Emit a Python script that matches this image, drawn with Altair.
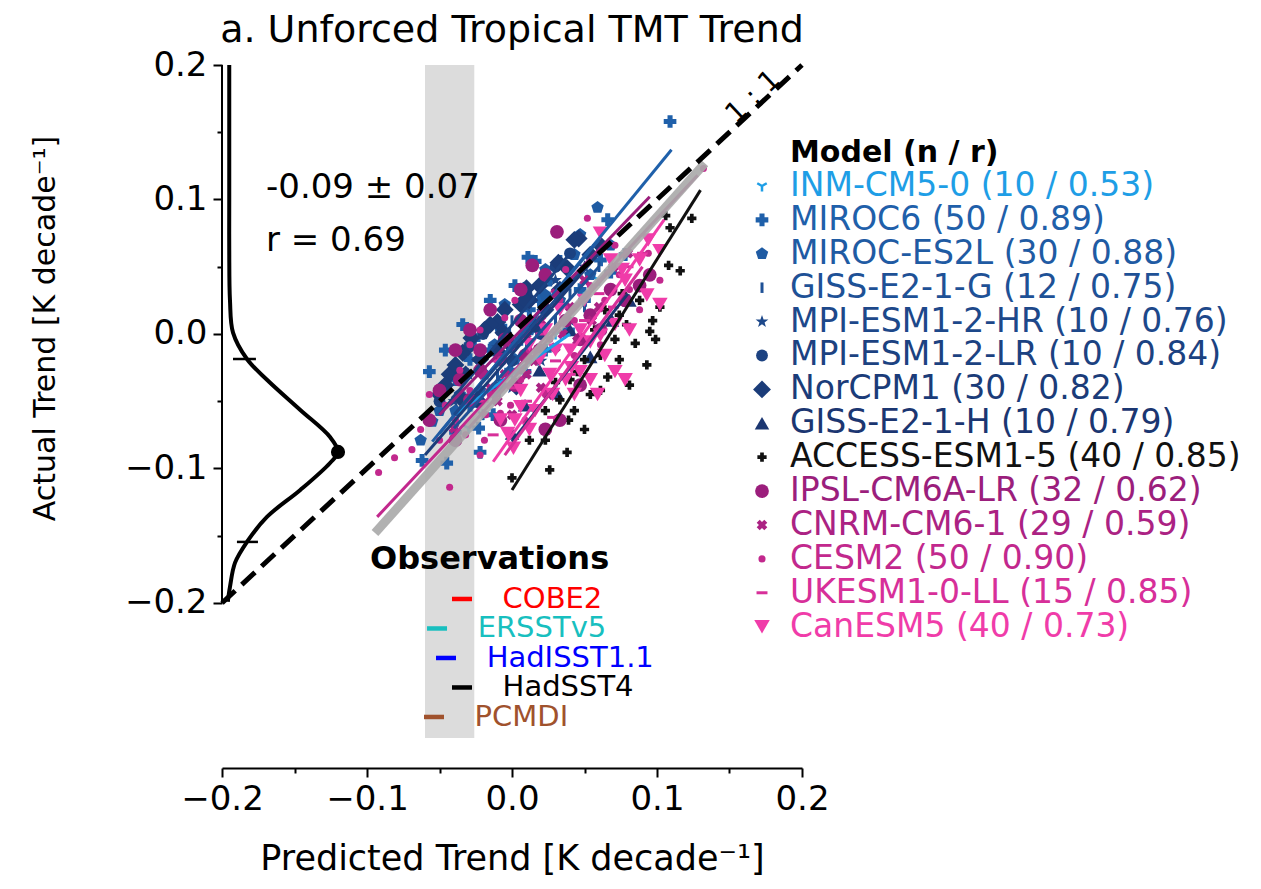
import math
import altair as alt
import pandas as pd

# ---------------- data ----------------
model_names = ["INM-CM5-0", "MIROC6", "MIROC-ES2L", "GISS-E2-1-G", "MPI-ESM1-2-HR",
               "MPI-ESM1-2-LR", "NorCPM1", "GISS-E2-1-H", "ACCESS-ESM1-5", "IPSL-CM6A-LR",
               "CNRM-CM6-1", "CESM2", "UKESM1-0-LL", "CanESM5"]
model_n = [10, 50, 30, 12, 10, 10, 30, 10, 40, 32, 29, 50, 15, 40]
model_r = ["0.53", "0.89", "0.88", "0.75", "0.76", "0.84", "0.82", "0.79", "0.85",
           "0.62", "0.59", "0.90", "0.85", "0.73"]
model_colors = ["#1e9ee6", "#1f60aa", "#1f5ba3", "#1e5196", "#1d488a", "#1c4281",
                "#1b3c79", "#1b3671", "#111111", "#9b1e7c", "#ab2283", "#c2288d",
                "#d72f99", "#f03ca9"]

inm_x = [0.000, -0.020, 0.030, 0.040, -0.010, 0.020, 0.050, 0.010, -0.030, 0.060]
inm_y = [-0.030, -0.060, 0.000, 0.020, -0.040, -0.010, 0.030, -0.020, -0.070, 0.040]

miroc6_x = [0.109, 0.066, 0.011, -0.022, -0.062, -0.045, -0.023, -0.013, 0.033, 0.019, -0.005,
            -0.029, -0.039, -0.012, 0.006, 0.047, 0.012, -0.015, -0.032, -0.001, 0.061, 0.026,
            -0.026, -0.039, -0.029, -0.008, 0.009, 0.023, 0.039, 0.050, 0.068, 0.078, 0.016,
            0.002, -0.015, -0.034, -0.046, -0.057]
miroc6_y = [0.158, 0.085, 0.057, -0.088, -0.094, -0.096, -0.070, -0.060, 0.054, 0.025, 0.003,
            -0.019, -0.034, -0.045, -0.004, 0.033, 0.018, -0.012, -0.049, -0.027, 0.055, 0.040,
            -0.004, -0.073, -0.053, -0.038, -0.028, -0.012, 0.003, 0.025, 0.046, 0.059, 0.054,
            0.036, 0.025, 0.007, -0.012, -0.028]

mirocES_x = [0.059, 0.008, -0.055, 0.043, 0.023, -0.008, -0.029, 0.002, -0.019, -0.036, 0.033,
             0.054, -0.050, 0.012, 0.047, -0.005, -0.039, -0.022, 0.023, -0.012, 0.068, -0.063]
mirocES_y = [0.094, 0.034, -0.065, 0.059, 0.029, 0.003, -0.008, -0.019, -0.030, -0.045, 0.025,
             0.044, -0.057, 0.003, 0.074, 0.022, -0.057, -0.042, 0.048, -0.008, 0.066, -0.079]

gissG_x = [0.02, -0.01, 0.04, 0.00, -0.03, 0.05, 0.01, -0.02, 0.03, 0.06, -0.04, 0.00]
gissG_y = [0.00, -0.03, 0.03, -0.02, -0.05, 0.02, -0.01, -0.06, 0.01, 0.05, -0.07, 0.01]

mpiHR_x = [0.01, -0.03, 0.03, -0.01, 0.02, -0.04, 0.05, 0.00, 0.04, -0.02]
mpiHR_y = [0.02, -0.03, 0.04, -0.01, -0.02, -0.05, 0.05, -0.04, 0.01, 0.00]

mpiLR_x = [-0.02, 0.01, -0.04, 0.03, 0.00, -0.03, 0.02, -0.05, 0.04, -0.01]
mpiLR_y = [0.00, 0.03, -0.03, 0.05, -0.02, -0.01, 0.00, -0.05, 0.06, -0.04]

nor_x = [0.046, 0.032, 0.019, -0.010, -0.028, -0.034, -0.006, -0.036, -0.024, 0.003, -0.015,
         -0.019, 0.043, 0.038, 0.010, -0.043, -0.046, 0.006, -0.039, -0.001, 0.012, 0.023,
         -0.022, 0.054, 0.061, -0.032, -0.010, 0.016, -0.050, -0.005, 0.009, 0.033]
nor_y = [0.071, 0.053, 0.036, 0.009, -0.003, -0.014, 0.001, -0.047, -0.049, -0.039, 0.007,
         0.003, 0.070, 0.049, 0.034, -0.030, -0.038, 0.022, -0.023, -0.008, 0.025, 0.018,
         -0.019, 0.059, 0.066, -0.030, -0.013, 0.007, -0.045, 0.018, 0.025, 0.033]

gissH_x = [0.031, 0.069, 0.054, 0.000, 0.040, 0.019, 0.009, 0.081]
gissH_y = [-0.044, 0.010, -0.017, -0.074, 0.003, -0.027, -0.053, 0.025]

access_x = [0.106, 0.124, 0.109, 0.116, 0.000, 0.038, 0.093, 0.102, 0.097, 0.095, 0.085, 0.079,
            0.066, 0.045, 0.040, 0.030, 0.039, 0.076, 0.087, 0.071, 0.061, 0.054, 0.050, 0.023,
            0.033, 0.088, 0.074, 0.012, 0.057, 0.064, 0.043, 0.061, 0.074, 0.099, 0.023, 0.026,
            0.081, 0.108, 0.050]
access_y = [0.088, 0.086, 0.079, 0.047, -0.107, -0.088, -0.023, 0.020, 0.010, 0.002, -0.007, 0.007,
            -0.032, -0.028, -0.034, -0.036, -0.064, 0.030, 0.036, -0.004, -0.016, -0.045, -0.019,
            -0.057, -0.049, 0.025, 0.014, -0.079, 0.003, 0.018, -0.057, -0.042, -0.019, -0.004,
            -0.079, -0.101, -0.038, 0.051, -0.071]

ipsl_x = [0.031, 0.014, 0.095, 0.023, -0.015, -0.029, -0.039, -0.005, 0.006, 0.019, 0.037,
          0.068, 0.078, 0.061, 0.047, -0.022, -0.036, -0.050, -0.008, 0.009, 0.006, 0.023,
          -0.029, -0.008, -0.039, 0.054, 0.088, 0.047, 0.033, -0.057, 0.002, -0.022]
ipsl_y = [0.076, 0.051, 0.044, -0.071, 0.018, 0.003, -0.012, -0.004, 0.010, -0.012, 0.010,
          0.033, 0.025, 0.003, -0.004, -0.027, -0.034, -0.042, -0.019, -0.016, 0.033, 0.044,
          -0.049, -0.064, -0.079, 0.014, 0.036, -0.038, -0.064, -0.064, -0.038, -0.012]

cnrm_x = [0.00, 0.02, -0.02, 0.04, 0.01, 0.03, -0.01, 0.05, 0.06, -0.03, 0.00, 0.02, 0.07,
          0.03, -0.04, 0.01, 0.015, 0.045, -0.015, 0.055, 0.025, 0.08, 0.035, -0.005]
cnrm_y = [-0.01, 0.01, -0.03, 0.02, -0.03, -0.01, -0.05, 0.04, 0.02, -0.05, -0.06, -0.04, 0.05,
          0.03, -0.07, 0.00, -0.02, -0.005, -0.04, 0.01, -0.045, 0.06, 0.00, -0.03]

cesm_x = [0.132, 0.052, 0.094, -0.057, -0.069, -0.092, -0.043, -0.018, -0.008, 0.002, -0.022,
          -0.029, 0.019, 0.033, 0.054, 0.074, -0.008, 0.006, -0.039, -0.050, -0.029, 0.012,
          0.043, 0.064, -0.015, 0.026, 0.081, -0.001, -0.036, -0.081, -0.063, -0.046, -0.032,
          -0.022, 0.009, 0.023, 0.043, 0.061, 0.088, 0.102, 0.071, 0.037, -0.005, -0.019]
cesm_y = [0.123, 0.086, 0.060, -0.045, -0.086, -0.103, -0.114, -0.060, -0.059, 0.025, 0.003,
          -0.008, 0.010, 0.025, 0.036, 0.044, -0.019, -0.034, -0.064, -0.079, -0.042, -0.012,
          0.010, 0.025, -0.045, -0.004, 0.033, -0.053, -0.027, -0.092, -0.071, -0.053, -0.075,
          -0.090, -0.064, -0.045, -0.016, -0.008, 0.018, 0.040, 0.066, 0.048, 0.012, -0.079]

ukesm_x = [-0.013, 0.028, 0.00, 0.03, 0.05, -0.02, 0.04, 0.06, 0.02, 0.08, 0.01, 0.07, -0.01,
           0.09, 0.035]
ukesm_y = [-0.075, -0.062, -0.04, -0.02, 0.01, -0.05, -0.03, 0.03, 0.00, 0.05, -0.05, 0.02,
           -0.02, 0.06, 0.02]

canesm_x = [0.093, 0.071, 0.061, 0.054, 0.041, 0.071, 0.054, 0.059, 0.043, 0.094, 0.076, 0.006,
            -0.003, 0.001, 0.061, 0.033, 0.023, 0.012, 0.019, 0.030, 0.047, 0.037, 0.006,
            -0.008, 0.078, 0.102, 0.050, 0.068, 0.026, 0.016, 0.028, 0.047, 0.064, 0.081,
            0.102, 0.012, 0.002, 0.088, 0.040, 0.078]
canesm_y = [0.029, 0.007, -0.001, -0.006, -0.025, -0.028, -0.034, -0.045, -0.045, 0.070, 0.048,
            -0.054, -0.074, -0.085, 0.075, 0.018, 0.003, -0.008, -0.019, -0.012, 0.003, -0.034,
            -0.042, -0.064, 0.040, 0.062, 0.025, 0.055, -0.030, -0.057, -0.045, -0.028, -0.016,
            0.003, 0.022, -0.071, -0.064, 0.055, -0.012, -0.034]

model_x = [inm_x, miroc6_x, mirocES_x, gissG_x, mpiHR_x, mpiLR_x, nor_x, gissH_x, access_x,
           ipsl_x, cnrm_x, cesm_x, ukesm_x, canesm_x]
model_y = [inm_y, miroc6_y, mirocES_y, gissG_y, mpiHR_y, mpiLR_y, nor_y, gissH_y, access_y,
           ipsl_y, cnrm_y, cesm_y, ukesm_y, canesm_y]

# per-model regression line end points
reg_x0 = [-0.040, -0.050, -0.055, -0.040, -0.040, -0.050, -0.060, 0.000, 0.000, -0.050, -0.030, -0.093, -0.005, -0.013]
reg_y0 = [-0.060, -0.074, -0.080, -0.070, -0.060, -0.060, -0.090, -0.080, -0.116, -0.060, -0.070, -0.136, -0.090, -0.095]
reg_x1 = [0.040, 0.110, 0.060, 0.060, 0.050, 0.040, 0.060, 0.080, 0.130, 0.095, 0.070, 0.128, 0.090, 0.105]
reg_y1 = [0.000, 0.137, 0.070, 0.050, 0.050, 0.060, 0.060, 0.030, 0.107, 0.102, 0.050, 0.118, 0.050, 0.085]

# multi-model regression
all_x = [-0.0945, 0.133]
all_y = [-0.148, 0.127]

# distribution of the unforced actual trend (left)
kde_x = [-0.195, -0.195, -0.195, -0.1945, -0.1924, -0.1828, -0.169, -0.146, -0.1255, -0.120,
         -0.1255, -0.146, -0.169, -0.1828, -0.191, -0.1945, -0.196]
kde_y = [0.200, 0.100, 0.0625, 0.025, 0.001, -0.0186, -0.034, -0.0565, -0.0766, -0.0877,
         -0.0959, -0.116, -0.136, -0.1546, -0.170, -0.188, -0.199]
kde_peak = [-0.120, -0.0877]
kde_ci_y = [-0.0186, -0.1546]
kde_ci_x0 = [-0.1924, -0.1897]
kde_ci_x1 = [-0.1766, -0.1752]

# observations
obs_names = ["COBE2", "ERSSTv5", "HadISST1.1", "HadSST4", "PCMDI"]
obs_x = [-0.0345, -0.0517, -0.0455, -0.0345, -0.0538]
obs_colors = ["#ff0000", "#18bfbf", "#0000ff", "#000000", "#a0522d"]
obs_band = [-0.060, -0.026]

stats_text = ["-0.09 \u00b1 0.07", "r = 0.69"]
title_text = "a. Unforced Tropical TMT Trend"

# ---------------- layout helpers ----------------
FONT = "DejaVu Sans"
xscale = alt.Scale(domain=[-0.2, 0.2], nice=False, zero=False)
yscale = alt.Scale(domain=[-0.3227, 0.2], nice=False, zero=False)
tick_vals = [-0.2, -0.15, -0.1, -0.05, 0.0, 0.05, 0.1, 0.15, 0.2]
minor_test = "abs(round(datum.value*100)) % 10 != 0"
lab_expr = f"{minor_test} ? '' : format(datum.value, '.1f')"

xaxis = alt.Axis(values=tick_vals, labelExpr=lab_expr, title="Predicted Trend [K decade\u207b\u00b9]",
                 tickSize={"condition": {"test": minor_test, "value": 5}, "value": 9},
                 tickWidth=2, tickColor="black", domainColor="black", domainWidth=2,
                 labelFontSize=34, labelColor="black", labelPadding=5, labelFont=FONT,
                 labelFlush=False, labelOverlap=False,
                 titleFontSize=35, titleFont=FONT, titleFontWeight="normal", titleColor="black",
                 titleY=90, titleBaseline="middle", grid=False)
yaxis = alt.Axis(values=tick_vals, labelExpr=lab_expr, title="Actual Trend [K decade\u207b\u00b9]",
                 tickSize={"condition": {"test": minor_test, "value": 5}, "value": 9},
                 tickWidth=2, tickColor="black", domain=False,
                 labelFontSize=34, labelColor="black", labelPadding=6, labelFont=FONT,
                 labelFlush=False, labelOverlap=False,
                 titleFontSize=30, titleFont=FONT, titleFontWeight="normal", titleColor="black",
                 titleAngle=270, titleX=-177, titleY=263, titleAlign="center",
                 titleBaseline="middle", grid=False)


def X(f="x"):
    return alt.X(f"{f}:Q", scale=xscale, axis=xaxis)


def Y(f="y"):
    return alt.Y(f"{f}:Q", scale=yscale, axis=yaxis)


def star_path(n=5, inner=0.4):
    pts = []
    for k in range(2 * n):
        r = 1.0 if k % 2 == 0 else inner
        a = math.radians(-90 + k * 180.0 / n)
        pts.append(f"{r*math.cos(a):.3f},{r*math.sin(a):.3f}")
    return "M" + "L".join(pts) + "Z"


pent = "M0,-1L0.951,-0.309L0.588,0.809L-0.588,0.809L-0.951,-0.309Z"
tri_down_lines = "M0,0L0,1M0,0L-0.866,-0.5M0,0L0.866,-0.5"

# shape, size, filled, strokeWidth, angle
styles = [
    (tri_down_lines, 120, False, 2.5, 0),
    ("cross", 160, True, 1, 0),
    (pent, 170, True, 1, 0),
    ("M0,-1L0,1", 110, False, 3, 0),
    (star_path(), 180, True, 1, 0),
    ("circle", 140, True, 1, 0),
    ("diamond", 320, True, 1, 0),
    ("triangle-up", 210, True, 1, 0),
    ("cross", 85, True, 1, 0),
    ("circle", 190, True, 1, 0),
    ("cross", 115, True, 1, 45),
    ("circle", 50, True, 1, 0),
    ("M-1,0L1,0", 120, False, 3, 0),
    ("triangle-down", 240, True, 1, 0),
]


def py_to_y(py):
    return (334 - py) / 1345.0


def px_to_x(px):
    return (px - 512) / 1450.0


leg_marker_x = px_to_x(762)
leg_text_x = px_to_x(790)
leg_row_y = [py_to_y(186 + 33.9 * i) for i in range(len(model_names))]

layers = []

# observational range band
band = pd.DataFrame({"x": [obs_band[0]], "x2": [obs_band[1]], "y": [0.2], "y2": [py_to_y(738)]})
layers.append(alt.Chart(band).mark_rect(color="#dcdcdc").encode(x=X(), x2="x2:Q", y=Y(), y2="y2:Q"))

# scatter points per model (+ legend marker)
for i, name in enumerate(model_names):
    shape, size, filled, sw, ang = styles[i]
    xs = list(model_x[i]) + [leg_marker_x]
    ys = list(model_y[i]) + [leg_row_y[i]]
    df = pd.DataFrame({"x": xs, "y": ys})
    mk = dict(shape=shape, size=size, filled=filled, color=model_colors[i], opacity=1,
              strokeWidth=sw)
    if ang:
        mk["angle"] = ang
    layers.append(alt.Chart(df).mark_point(**mk).encode(x=X(), y=Y()))

# model regression lines
rows = []
for i, name in enumerate(model_names):
    rows.append({"model": name, "x": reg_x0[i], "y": reg_y0[i], "o": 0})
    rows.append({"model": name, "x": reg_x1[i], "y": reg_y1[i], "o": 1})
reg_df = pd.DataFrame(rows)
layers.append(alt.Chart(reg_df).mark_line(strokeWidth=3).encode(
    x=X(), y=Y(), order="o:Q",
    color=alt.Color("model:N", scale=alt.Scale(domain=model_names, range=model_colors), legend=None)))

# overall regression
layers.append(alt.Chart(pd.DataFrame({"x": all_x, "y": all_y})).mark_line(
    color="#a9a9a9", strokeWidth=9, opacity=0.9).encode(x=X(), y=Y()))

# 1:1 line
layers.append(alt.Chart(pd.DataFrame({"x": [-0.2, 0.2], "y": [-0.2, 0.2]})).mark_line(
    color="black", strokeWidth=5, strokeDash=[18, 9]).encode(x=X(), y=Y()))
layers.append(alt.Chart(pd.DataFrame({"x": [0.1665], "y": [0.176], "t": ["1 : 1"]})).mark_text(
    font=FONT, fontSize=28, angle=317, align="center", baseline="middle", color="black").encode(
    x=X(), y=Y(), text="t:N"))

# left-hand y spine from -0.2 to 0.2
layers.append(alt.Chart(pd.DataFrame({"x": [-0.2], "y": [-0.2], "y2": [0.2]})).mark_rule(
    color="black", strokeWidth=2).encode(x=X(), y=Y(), y2="y2:Q"))

# distribution curve
kde_df = pd.DataFrame({"x": kde_x, "y": kde_y, "o": list(range(len(kde_x)))})
layers.append(alt.Chart(kde_df).mark_line(color="black", strokeWidth=4, interpolate="catmull-rom").encode(
    x=X(), y=Y(), order="o:Q"))
ci_df = pd.DataFrame({"x": kde_ci_x0, "x2": kde_ci_x1, "y": kde_ci_y})
layers.append(alt.Chart(ci_df).mark_rule(color="black", strokeWidth=2.5).encode(x=X(), x2="x2:Q", y=Y()))
layers.append(alt.Chart(pd.DataFrame({"x": [kde_peak[0]], "y": [kde_peak[1]]})).mark_point(
    shape="circle", filled=True, size=200, color="black", opacity=1).encode(x=X(), y=Y()))

# stats text
st_df = pd.DataFrame({"x": [px_to_x(266)] * 2, "y": [py_to_y(188), py_to_y(241)], "t": stats_text})
layers.append(alt.Chart(st_df).mark_text(font=FONT, fontSize=34, align="left", baseline="middle",
                                         color="black").encode(x=X(), y=Y(), text="t:N"))

# title
layers.append(alt.Chart(pd.DataFrame({"x": [0.0], "y": [py_to_y(31)], "t": [title_text]})).mark_text(
    font=FONT, fontSize=38, align="center", baseline="middle", color="black").encode(
    x=X(), y=Y(), text="t:N"))

# observations legend
obs_rows_y = [py_to_y(599 + 29.5 * i) for i in range(len(obs_names))]
obs_df = pd.DataFrame({"x": obs_x, "y": obs_rows_y, "name": obs_names, "c": obs_colors,
                       "tx": [v + 0.028 for v in obs_x]})
layers.append(alt.Chart(obs_df).mark_point(shape="M-1,0L1,0", size=400, filled=False,
                                           strokeWidth=4.5, opacity=1).encode(
    x=X(), y=Y(), color=alt.Color("c:N", scale=None)))
layers.append(alt.Chart(obs_df).mark_text(font=FONT, fontSize=29, align="left", baseline="middle").encode(
    x=X("tx"), y=Y(), text="name:N", color=alt.Color("c:N", scale=None)))
layers.append(alt.Chart(pd.DataFrame({"x": [px_to_x(370)], "y": [py_to_y(559)], "t": ["Observations"]})).mark_text(
    font=FONT, fontSize=32, fontWeight="bold", align="left", baseline="middle", color="black").encode(
    x=X(), y=Y(), text="t:N"))

# model legend
leg_df = pd.DataFrame({
    "x": [leg_text_x] * len(model_names), "y": leg_row_y,
    "t": [f"{m} ({n} / {r})" for m, n, r in zip(model_names, model_n, model_r)],
    "c": model_colors})
layers.append(alt.Chart(leg_df).mark_text(font=FONT, fontSize=33, align="left", baseline="middle").encode(
    x=X(), y=Y(), text="t:N", color=alt.Color("c:N", scale=None)))
layers.append(alt.Chart(pd.DataFrame({"x": [leg_text_x], "y": [py_to_y(153)], "t": ["Model (n / r)"]})).mark_text(
    font=FONT, fontSize=30, fontWeight="bold", align="left", baseline="middle", color="black").encode(
    x=X(), y=Y(), text="t:N"))

chart = alt.layer(*layers).properties(
    width=580, height=703,
    padding={"left": 222, "top": 65, "right": 459, "bottom": 121},
    autosize=alt.AutoSizeParams(type="none"),
).configure(background="white", view=alt.ViewConfig(stroke=None))

chart.save("out.html", embed_options={"renderer": "svg", "actions": False})
